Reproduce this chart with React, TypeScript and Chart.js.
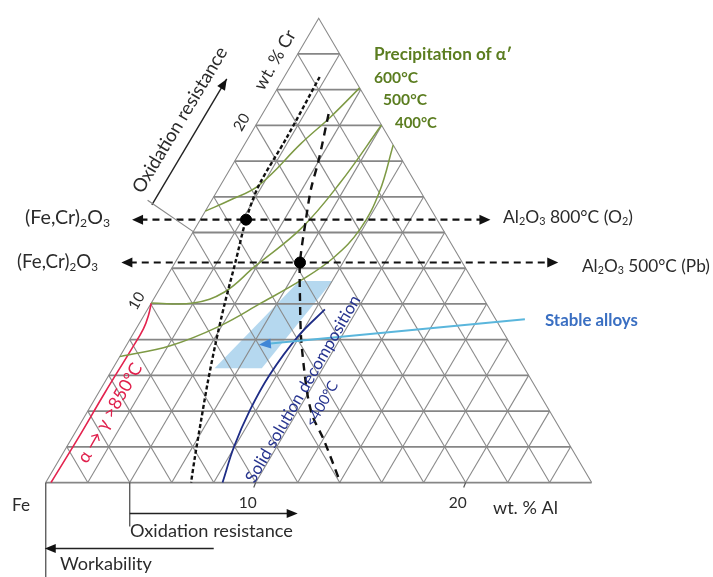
import React, { useEffect, useRef } from "react";
import { Chart, registerables } from "chart.js";

Chart.register(...registerables);

const WIDTH = 713;
const HEIGHT = 577;

// Corner of the Fe–Cr–Al ternary: Fe at the origin, wt.% Al along the base, wt.% Cr along the left side
const axisMax = 26;
const gridLevels = [2, 4, 6, 8, 10, 12, 14, 16, 18, 20, 22, 24];
const alTickValues = [10, 20];
const crTickValues = [10, 20];

// every point is [wt.% Al, wt.% Cr]
const alphaPrime600 = [[0, 15.2], [0.88, 15.82], [1.83, 16.64], [2.67, 18.99], [3.33, 20.47], [3.9, 22.1]];
const alphaPrime500 = [[0, 10.05], [2.0, 10.05], [3.18, 10.67], [3.91, 12.1], [5.05, 14.23], [5.63, 16.8], [5.98, 20.02]];
const alphaPrime400 = [[0, 7.05], [2.1, 7.66], [3.9, 8.76], [5.25, 10.07], [6.5, 11.33], [7.41, 12.59], [7.88, 14.2], [7.75, 16.3], [7.1, 18.9]];
const gammaLoop850 = [[0, 10.05], [0.2, 9.4], [0.35, 8.6], [0.35, 7.5], [0.3, 5], [0.3, 2.5], [0.25, 0]];
const decomposition400 = [[8.42, 0], [7.96, 2.03], [7.7, 4.05], [7.65, 6.02], [7.93, 8.21], [8.45, 9.69]];
const aluminaLimit800 = [[1.69, 22.71], [1.82, 19.27], [1.83, 16.64], [2.18, 14.72], [2.87, 12.32], [3.53, 9.96], [4.2, 7.77], [4.92, 5.58], [5.69, 3.39], [6.37, 1.48], [6.92, 0]];
const aluminaLimit500 = [[3.15, 20.64], [3.97, 18.06], [4.42, 16.42], [5.03, 14.72], [5.95, 12.32], [6.99, 10.24], [8.05, 8.21], [9.1, 6.4], [10.11, 4.76], [10.89, 3.67], [12.03, 2.41], [14.03, 0]];
const stableRegion = [[6.43, 11.28], [8.02, 11.28], [7.09, 6.4], [4.84, 6.4]];
const referenceAlloys = [[2.18, 14.72], [5.95, 12.32]];
// oxide-transition arrows: Cr level, Al at the left tip, Al at the right tip
const oxideArrowCr = [14.72, 12.32];
const oxideArrowAlLeft = [-3.25, -2.56];
const oxideArrowAlRight = [13.82, 18.25];
const stableArrow = [[18.25, 9.14], [6.29, 7.72]];
const oxidationArrowAl = [4, 12];
const workabilityArrowAl = [8, 0];
const crOxidationArrow = [[-2.72, 15.55], [-2.68, 22.6]];
const crOxidationConnector = [[0, 14.05], [-3.05, 15.8]];

// scale window (data units: x = Al + Cr/2, y = Cr)
const X_MIN = -1.8705;
const X_MAX = 31.471;
const Y_MIN = -4.926;
const Y_MAX = 26.656;

const FONT = "Lato, 'Open Sans', sans-serif";

type Seg = { t: string; sub?: boolean };

function segs(s: string): Seg[] {
  // "_x" marks a subscript character
  const out: Seg[] = [];
  let i = 0;
  while (i < s.length) {
    if (s[i] === "_") {
      out.push({ t: s[i + 1], sub: true });
      i += 2;
    } else {
      let j = i;
      while (j < s.length && s[j] !== "_") j++;
      out.push({ t: s.slice(i, j) });
      i = j;
    }
  }
  return out;
}

function drawText(
  ctx: CanvasRenderingContext2D,
  text: string,
  x: number,
  y: number,
  o: { size: number; w?: number; color?: string; bold?: boolean; align?: "left" | "right" | "center"; rot?: number }
) {
  const parts = segs(text);
  const weight = o.bold ? "bold " : "";
  const measure = (size: number) => {
    let tw = 0;
    for (const p of parts) {
      ctx.font = `${weight}${p.sub ? size * 0.62 : size}px ${FONT}`;
      tw += ctx.measureText(p.t).width;
    }
    return tw;
  };
  let size = o.size;
  if (o.w) {
    const m = measure(size);
    size = size * (o.w / m);
  }
  const total = measure(size);
  ctx.save();
  ctx.translate(x, y);
  if (o.rot) ctx.rotate((o.rot * Math.PI) / 180);
  let cx = 0;
  if (o.align === "right") cx = -total;
  if (o.align === "center") cx = -total / 2;
  ctx.fillStyle = o.color || "#2b2b2b";
  ctx.textBaseline = "middle";
  ctx.textAlign = "left";
  for (const p of parts) {
    const fs = p.sub ? size * 0.62 : size;
    ctx.font = `${weight}${fs}px ${FONT}`;
    ctx.fillText(p.t, cx, p.sub ? size * 0.28 : 0);
    cx += ctx.measureText(p.t).width;
  }
  ctx.restore();
}

function arrowHead(ctx: CanvasRenderingContext2D, tip: number[], from: number[], len: number, half: number, color: string) {
  const a = Math.atan2(tip[1] - from[1], tip[0] - from[0]);
  ctx.save();
  ctx.fillStyle = color;
  ctx.beginPath();
  ctx.moveTo(tip[0], tip[1]);
  ctx.lineTo(tip[0] - len * Math.cos(a) + half * Math.sin(a), tip[1] - len * Math.sin(a) - half * Math.cos(a));
  ctx.lineTo(tip[0] - len * Math.cos(a) - half * Math.sin(a), tip[1] - len * Math.sin(a) + half * Math.cos(a));
  ctx.closePath();
  ctx.fill();
  ctx.restore();
}

const overlay = {
  id: "overlay",
  afterDatasetsDraw(chart: any) {
    const ctx: CanvasRenderingContext2D = chart.ctx;
    const xs = chart.scales.x;
    const ys = chart.scales.y;
    const P = (al: number, cr: number) => [xs.getPixelForValue(al + cr * 0.5), ys.getPixelForValue(cr)];
    const seg = (a: number[], b: number[], color: string, w: number) => {
      ctx.save();
      ctx.strokeStyle = color;
      ctx.lineWidth = w;
      ctx.beginPath();
      ctx.moveTo(a[0], a[1]);
      ctx.lineTo(b[0], b[1]);
      ctx.stroke();
      ctx.restore();
    };

    // heads of the dashed oxide arrows
    oxideArrowCr.forEach((cr, i) => {
      const l = P(oxideArrowAlLeft[i], cr);
      const r = P(oxideArrowAlRight[i], cr);
      arrowHead(ctx, l, r, 11, 5, "#111");
      arrowHead(ctx, r, l, 11, 5, "#111");
    });

    // stable-alloy pointer head
    arrowHead(ctx, P(stableArrow[1][0], stableArrow[1][1]), P(stableArrow[0][0], stableArrow[0][1]), 12, 5, "#3f86d6");

    // Cr-side oxidation resistance arrow
    const ca = P(crOxidationArrow[0][0], crOxidationArrow[0][1]);
    const cb = P(crOxidationArrow[1][0], crOxidationArrow[1][1]);
    seg(ca, cb, "#222", 1.4);
    arrowHead(ctx, cb, ca, 11, 4.5, "#111");
    seg(P(crOxidationConnector[0][0], crOxidationConnector[0][1]), P(crOxidationConnector[1][0], crOxidationConnector[1][1]), "#888", 1.2);

    // base brackets and arrows
    const fe = P(0, 0);
    seg([fe[0], fe[1]], [fe[0], HEIGHT], "#444", 1.2);
    const o0 = P(oxidationArrowAl[0], 0);
    const o1 = P(oxidationArrowAl[1], 0);
    seg([o0[0], o0[1]], [o0[0], o0[1] + 44], "#444", 1.2);
    seg([o0[0], o0[1] + 31], [o1[0] - 6, o1[1] + 31], "#222", 1.5);
    arrowHead(ctx, [o1[0], o1[1] + 31], [o0[0], o0[1] + 31], 11, 4.5, "#111");
    const w0 = P(workabilityArrowAl[0], 0);
    const w1 = P(workabilityArrowAl[1], 0);
    seg([w0[0], w0[1] + 66], [w1[0] + 6, w1[1] + 66], "#222", 1.5);
    arrowHead(ctx, [w1[0] - 1, w1[1] + 66], [w0[0], w0[1] + 66], 11, 4.5, "#111");

    // tick marks and tick labels
    alTickValues.forEach((v) => {
      const p = P(v, 0);
      seg([p[0], p[1]], [p[0] - 2, p[1] + 5], "#555", 1.2);
      drawText(ctx, String(v), p[0] - 8, p[1] + 20, { size: 15, w: 18, align: "center" });
    });
    crTickValues.forEach((v) => {
      const p = P(0, v);
      drawText(ctx, String(v), p[0] - 14, p[1] - 3, { size: 15, rot: -60, align: "center" });
    });

    // labels
    const dark = "#2b2b2b";
    drawText(ctx, "Fe", 12, 505, { size: 15, w: 18, color: dark });
    drawText(ctx, "wt. % Al", 493, 508, { size: 15, w: 65, color: dark });
    drawText(ctx, "Oxidation resistance", 130, 531, { size: 15, w: 163, color: dark });
    drawText(ctx, "Workability", 60, 564, { size: 15, w: 92, color: dark });
    drawText(ctx, "(Fe,Cr)_2O_3", 110, 218, { size: 15, w: 85, color: dark, align: "right" });
    drawText(ctx, "(Fe,Cr)_2O_3", 98, 262, { size: 15, w: 81, color: dark, align: "right" });
    drawText(ctx, "Al_2O_3 800°C (O_2)", 503, 217, { size: 15, w: 130, color: dark });
    drawText(ctx, "Al_2O_3 500°C (Pb)", 582, 266, { size: 15, w: 128, color: dark });
    drawText(ctx, "Stable alloys", 545, 321, { size: 14, w: 93, color: "#3a6fc2", bold: true });
    const green = "#5b7d20";
    drawText(ctx, "Precipitation of α′", 374, 54, { size: 14, w: 138, color: green, bold: true });
    drawText(ctx, "600°C", 374, 78, { size: 14, w: 44, color: green, bold: true });
    drawText(ctx, "500°C", 383, 100, { size: 14, w: 44, color: green, bold: true });
    drawText(ctx, "400°C", 395, 123, { size: 14, w: 42, color: green, bold: true });
    drawText(ctx, "wt. % Cr", 275, 60, { size: 15, w: 66, color: dark, rot: -60, align: "center" });
    drawText(ctx, "Oxidation resistance", 180, 120, { size: 15, w: 167, color: dark, rot: -59, align: "center" });
    drawText(ctx, "α → γ >850°C", 110, 413, { size: 14, w: 112, color: "#e0204c", rot: -60, align: "center" });
    drawText(ctx, "Solid solution decomposition", 303, 389, { size: 15, w: 213, color: "#27348f", rot: -60, align: "center" });
    drawText(ctx, "<400°C", 322, 404, { size: 15, w: 50, color: "#27348f", rot: -60, align: "center" });
  },
};

export default function App() {
  const ref = useRef<HTMLCanvasElement>(null);
  useEffect(() => {
    const canvas = ref.current;
    if (!canvas) return;
    const tern = (p: number[]) => ({ x: p[0] + p[1] * 0.5, y: p[1] });
    const datasets: any[] = [];
    const addLine = (pts: number[][], style: any, order: number) => {
      datasets.push({
        data: pts.map(tern),
        pointRadius: 0,
        fill: false,
        clip: false,
        order,
        tension: 0,
        ...style,
      });
    };

    // light-blue stable-alloy window
    addLine([...stableRegion, stableRegion[0]], { borderColor: "rgba(0,0,0,0)", borderWidth: 0, backgroundColor: "rgba(120,184,226,0.55)", fill: "shape" }, 100);

    // triangular grid
    const gridDiag = { borderColor: "#8a8a8a", borderWidth: 1.1 };
    const gridHor = { borderColor: "#868686", borderWidth: 1.8 };
    gridLevels.forEach((k) => {
      addLine([[0, k], [axisMax - k, k]], gridHor, 90);
      addLine([[k, 0], [k, axisMax - k]], gridDiag, 90);
      addLine([[k, 0], [0, k]], gridDiag, 90);
    });
    addLine([[0, 0], [axisMax, 0]], gridHor, 90);
    addLine([[axisMax, 0], [0, axisMax], [0, 0]], gridDiag, 90);

    // alpha-prime precipitation boundaries
    const greenStyle = { borderColor: "#7e9a45", borderWidth: 1.5, tension: 0.4 };
    addLine(alphaPrime600, greenStyle, 50);
    addLine(alphaPrime500, greenStyle, 50);
    addLine(alphaPrime400, greenStyle, 50);

    addLine(gammaLoop850, { borderColor: "#e3234e", borderWidth: 1.6, tension: 0.4 }, 50);
    addLine(decomposition400, { borderColor: "#1f2d86", borderWidth: 1.8, tension: 0.4 }, 50);

    addLine(aluminaLimit800, { borderColor: "#111", borderWidth: 2.4, borderDash: [4, 2.5], tension: 0.3 }, 40);
    addLine(aluminaLimit500, { borderColor: "#111", borderWidth: 2.4, borderDash: [8, 6], tension: 0.3 }, 40);

    oxideArrowCr.forEach((cr, i) => {
      addLine([[oxideArrowAlLeft[i] + 0.4, cr], [oxideArrowAlRight[i] - 0.4, cr]], { borderColor: "#111", borderWidth: 2.2, borderDash: [7, 5] }, 40);
    });

    addLine([stableArrow[0], [stableArrow[1][0] + 0.4, stableArrow[1][1] + 0.05]], { borderColor: "#5ab6dc", borderWidth: 2 }, 30);

    datasets.push({
      data: referenceAlloys.map(tern),
      showLine: false,
      pointRadius: 5.5,
      pointBackgroundColor: "#000",
      pointBorderColor: "#000",
      clip: false,
      order: 10,
    });

    const chart = new Chart(canvas, {
      type: "line",
      data: { datasets },
      options: {
        responsive: false,
        animation: false,
        events: [],
        layout: { padding: 0 },
        plugins: { legend: { display: false }, tooltip: { enabled: false } },
        scales: {
          x: { type: "linear", display: false, min: X_MIN, max: X_MAX },
          y: { type: "linear", display: false, min: Y_MIN, max: Y_MAX },
        },
      },
      plugins: [overlay],
    });
    return () => chart.destroy();
  }, []);

  return (
    <div style={{ position: "fixed", left: 0, top: 0, width: WIDTH, height: HEIGHT, background: "#fff" }}>
      <canvas ref={ref} width={WIDTH} height={HEIGHT} style={{ display: "block" }} />
    </div>
  );
}
